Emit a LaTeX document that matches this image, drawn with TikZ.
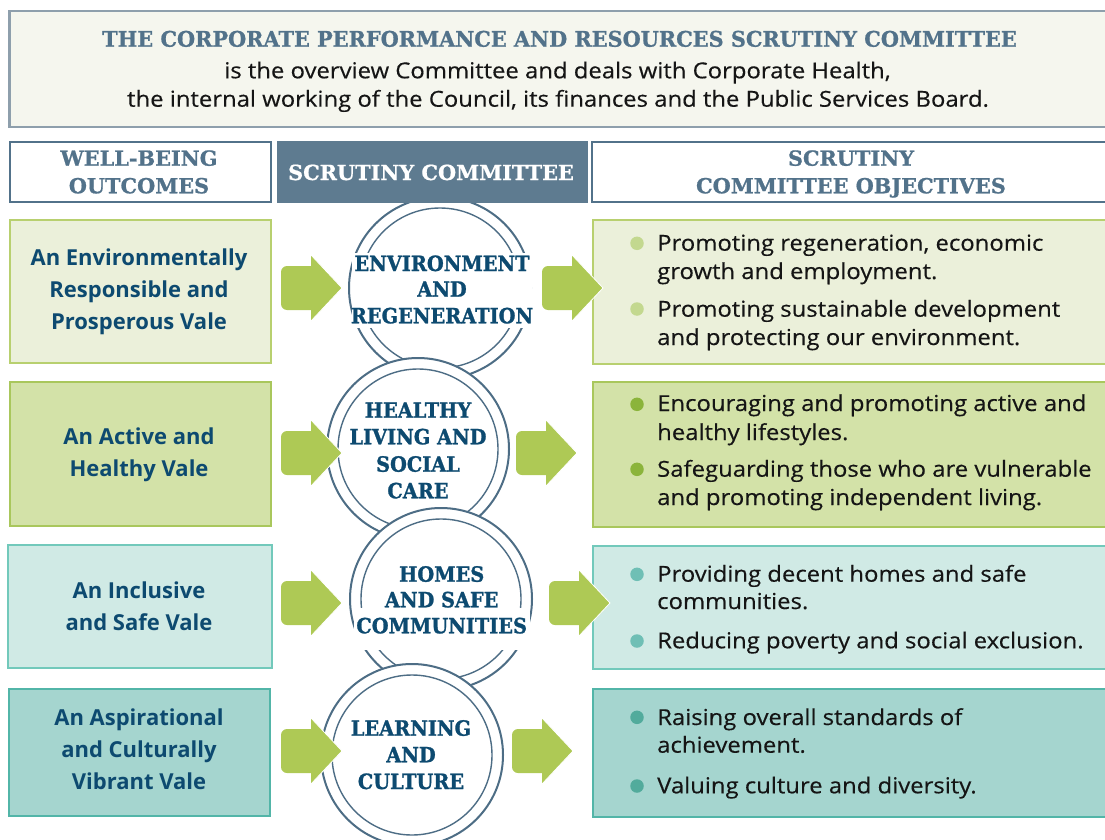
\documentclass[tikz,border=0pt]{standalone}
\usepackage{fontspec}
\setmainfont{Open Sans}
\newfontfamily\bodyfont{Open Sans}[FakeStretch=1.085, FakeBold=0.35]
\newfontfamily\slabfont{DejaVu Serif}[FakeBold=0.8]
\newfontfamily\slabcirc{DejaVu Serif}[FakeStretch=0.92, FakeBold=1.2]
\newfontfamily\slabtitle{DejaVu Serif}[FakeStretch=0.968, FakeBold=0.8]
\definecolor{navy}{HTML}{0D4A70}
\definecolor{hdrblue}{HTML}{52728A}
\definecolor{hdrfill}{HTML}{5E7B90}
\definecolor{topfill}{HTML}{F5F6EE}
\definecolor{topline}{HTML}{8E9FAC}
\definecolor{ringblue}{HTML}{4D6D85}
\definecolor{agreen}{HTML}{AEC955}
\definecolor{fa}{HTML}{EBF0DA}\definecolor{la}{HTML}{B8D06F}
\definecolor{fb}{HTML}{D3E2A8}\definecolor{lb}{HTML}{A9C75C}
\definecolor{fc}{HTML}{D0EAE5}\definecolor{lc}{HTML}{72C9BB}
\definecolor{fd}{HTML}{A5D5CF}\definecolor{ld}{HTML}{52B5A8}
\definecolor{da}{HTML}{C3D88F}\definecolor{db}{HTML}{8BB43B}
\definecolor{dc}{HTML}{6FBFB5}\definecolor{dd}{HTML}{52AB9C}
\definecolor{txt}{HTML}{151515}
\newcommand\garrow[2]{%
  \begin{scope}[shift={(#1,#2)}]
    \fill[agreen, rounded corners=6pt] (-61,-22) rectangle (-25,22);
    \fill[agreen] (-31,-33) -- (0,0) -- (-31,33) -- cycle;
    \draw[white, line width=0.8pt] (-31,-33) -- (0,0) -- (-31,33);
  \end{scope}}
\begin{document}
\begin{tikzpicture}[x=1pt,y=-1pt,
  every node/.style={inner sep=0pt},
  box/.style={draw, line width=2pt, anchor=north west},
  ring/.style={circle, draw=ringblue, line width=2pt, fill=white, minimum size=182pt},
  inring/.style={draw=ringblue, line width=1.4pt},
  bigslab/.style={font=\slabtitle\bfseries\fontsize{21.5}{26}\selectfont, text=hdrblue, anchor=base},
  hdrtxt/.style={font=\slabfont\bfseries\fontsize{20.8}{24}\selectfont, text=hdrblue, anchor=base},
  ctxt/.style={font=\slabcirc\bfseries\fontsize{21}{26}\selectfont, text=navy, anchor=base},
  topline2/.style={font=\bodyfont\fontsize{22}{28}\selectfont, text=txt, anchor=base},
  lefttxt/.style={font=\bfseries\fontsize{22}{32}\selectfont, text=navy, anchor=base},
  objtxt/.style={font=\bodyfont\fontsize{22}{28}\selectfont, text=txt, anchor=base west},
  dot/.style={circle, minimum size=13.5pt}
]
\useasboundingbox (0,0) rectangle (1105,840);

% top box
\node[box, fill=topfill, draw=topline, line width=2.5pt, minimum width=1110pt, minimum height=116pt] (top) at (8,10) {};
\node[bigslab] (t1) at (559.5,46.7) {THE CORPORATE PERFORMANCE AND RESOURCES SCRUTINY COMMITTEE};
\node[topline2] (t2) at (557.5,78.3) {is the overview Committee and deals with Corporate Health,};
\node[topline2] (t3) at (558,106.7) {the internal working of the Council, its finances and the Public Services Board.};

% row boxes
\node[box, fill=fa, draw=la, minimum width=261pt, minimum height=143pt] (L1) at (9,219) {};
\node[box, fill=fb, draw=lb, minimum width=261pt, minimum height=144pt] (L2) at (9,381) {};
\node[box, fill=fc, draw=lc, minimum width=264pt, minimum height=123pt] (L3) at (7,544) {};
\node[box, fill=fd, draw=ld, minimum width=261pt, minimum height=127pt] (L4) at (8,688) {};
\node[box, fill=fa, draw=la, minimum width=530pt, minimum height=144pt] (R1) at (592,219) {};
\node[box, fill=fb, draw=lb, minimum width=530pt, minimum height=145pt] (R2) at (592,381) {};
\node[box, fill=fc, draw=lc, minimum width=530pt, minimum height=123pt] (R3) at (592,545) {};
\node[box, fill=fd, draw=ld, minimum width=530pt, minimum height=128pt] (R4) at (592,688) {};

% circles
\node[ring] (c1) at (440,288) {};
\draw[inring] (c1.center) circle[radius=80pt];
\node[ring] (c2) at (418,449) {};
\draw[inring] (c2.center) circle[radius=80pt];
\node[ring] (c3) at (441,599) {};
\draw[inring] (c3.center) circle[radius=80pt];
\node[ring] (c4) at (412,755) {};
\draw[inring] (c4.center) circle[radius=80pt];

% header row
\node[box, fill=white, draw=hdrblue, minimum width=261pt, minimum height=60pt] (H1) at (9,141) {};
\node[box, fill=hdrfill, draw=hdrfill, minimum width=309pt, minimum height=60pt] (H2) at (277,141) {};
\node[box, fill=white, draw=hdrblue, minimum width=530pt, minimum height=60pt] (H3) at (591,141) {};
\node[hdrtxt] (h1a) at (139,165.7) {WELL-BEING};
\node[hdrtxt] (h1b) at (139,193.3) {OUTCOMES};
\node[hdrtxt, text=white] (h2) at (431,180) {SCRUTINY COMMITTEE};
\node[hdrtxt] (h3a) at (851,165.7) {SCRUTINY};
\node[hdrtxt] (h3b) at (851,193.3) {COMMITTEE OBJECTIVES};

% circle texts
\fill[white] (352,253) rectangle (532,328);
\fill[white] (354,608) rectangle (530,650);
\node[ctxt] (c1a) at (442,271) {ENVIRONMENT};
\node[ctxt] (c1b) at (442,296.7) {AND};
\node[ctxt] (c1c) at (442,323.3) {REGENERATION};
\node[ctxt] (c2a) at (418,417.7) {HEALTHY};
\node[ctxt] (c2b) at (418,444.3) {LIVING\ AND};
\node[ctxt] (c2c) at (418,471.7) {SOCIAL};
\node[ctxt] (c2d) at (418,498.3) {CARE};
\node[ctxt] (c3a) at (441.7,581.7) {HOMES};
\node[ctxt] (c3b) at (441.7,607.3) {AND SAFE};
\node[ctxt] (c3c) at (441.7,633.3) {COMMUNITIES};
\node[ctxt] (c4a) at (411,735.7) {LEARNING};
\node[ctxt] (c4b) at (411,762.3) {AND};
\node[ctxt] (c4c) at (411,789) {CULTURE};

% arrows
\garrow{342}{288}\garrow{603}{288}
\garrow{342}{453}\garrow{577}{453}
\garrow{342}{603}\garrow{610}{603}
\garrow{342}{751}\garrow{573}{751}

% left texts
\node[lefttxt] (l1a) at (139,265) {An Environmentally};
\node[lefttxt] (l1b) at (139,297.7) {Responsible and};
\node[lefttxt] (l1c) at (139,329.3) {Prosperous Vale};
\node[lefttxt] (l2a) at (139,444) {An Active and};
\node[lefttxt] (l2b) at (139,476) {Healthy Vale};
\node[lefttxt] (l3a) at (139,598.3) {An Inclusive};
\node[lefttxt] (l3b) at (139,630) {and Safe Vale};
\node[lefttxt] (l4a) at (139,725.7) {An Aspirational};
\node[lefttxt] (l4b) at (139,757.7) {and Culturally};
\node[lefttxt] (l4c) at (139,789.3) {Vibrant Vale};

% objectives
\node[dot, fill=da] (d1a) at (637,243.3) {};
\node[dot, fill=da] (d1b) at (637,309) {};
\node[objtxt] (o1a) at (657,250.7) {Promoting regeneration, economic};
\node[objtxt] (o1b) at (657,279) {growth and employment.};
\node[objtxt] (o1c) at (657,316.7) {Promoting sustainable development};
\node[objtxt] (o1d) at (657,345) {and protecting our environment.};
\node[dot, fill=db] (d2a) at (637,404.3) {};
\node[dot, fill=db] (d2b) at (637,469.3) {};
\node[objtxt] (o2a) at (657,411) {Encouraging and promoting active and};
\node[objtxt] (o2b) at (657,440) {healthy lifestyles.};
\node[objtxt] (o2c) at (657,476.7) {Safeguarding those who are vulnerable};
\node[objtxt] (o2d) at (657,505) {and promoting independent living.};
\node[dot, fill=dc] (d3a) at (637,574.3) {};
\node[dot, fill=dc] (d3b) at (637,641) {};
\node[objtxt] (o3a) at (657,581.7) {Providing decent homes and safe};
\node[objtxt] (o3b) at (657,609) {communities.};
\node[objtxt] (o3c) at (657,648.3) {Reducing poverty and social exclusion.};
\node[dot, fill=dd] (d4a) at (637,717.3) {};
\node[dot, fill=dd] (d4b) at (637,786) {};
\node[objtxt] (o4a) at (657,725) {Raising overall standards of};
\node[objtxt] (o4b) at (657,752.7) {achievement.};
\node[objtxt] (o4c) at (657,793.3) {Valuing culture and diversity.};
\end{tikzpicture}
\end{document}
